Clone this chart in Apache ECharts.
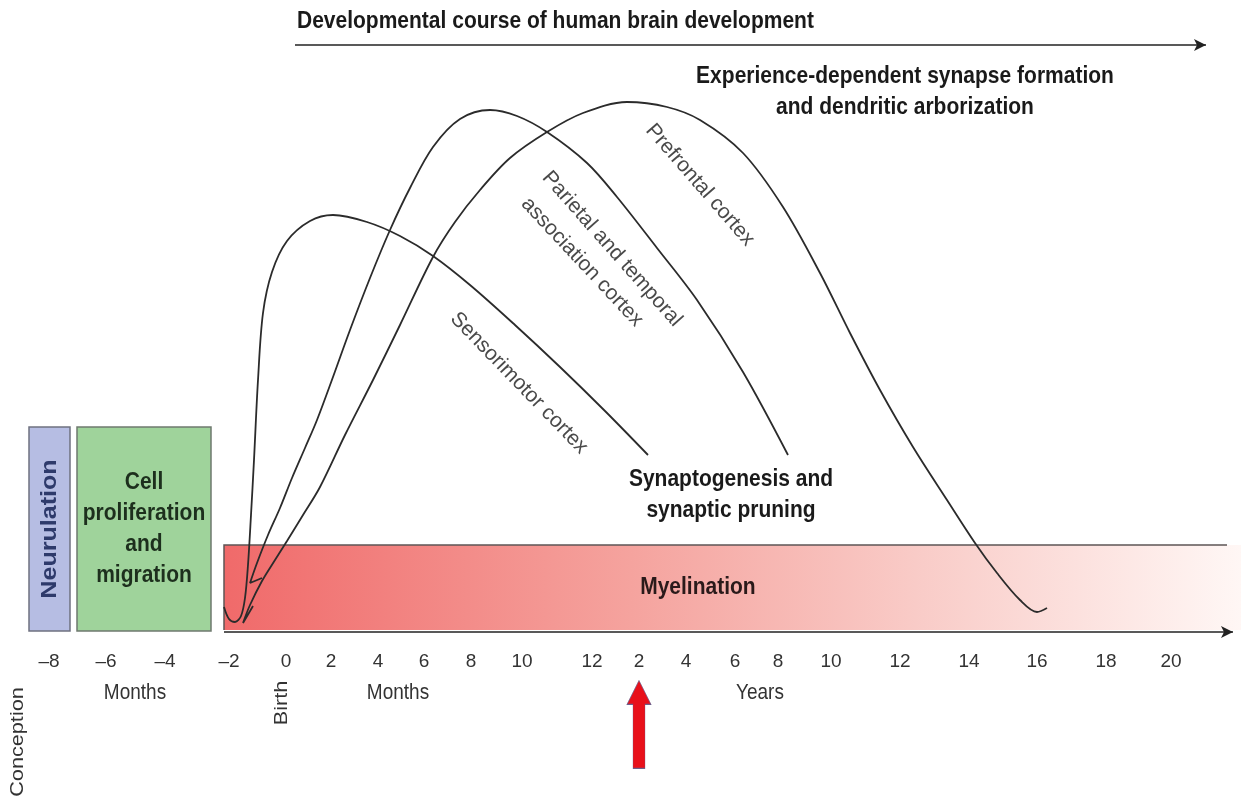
<!DOCTYPE html>
<html>
<head>
<meta charset="utf-8">
<script src="https://cdn.jsdelivr.net/npm/echarts@6/dist/echarts.min.js"></script>
<style>
  html, body { margin: 0; padding: 0; background: #fff; }
  #chart { width: 1241px; height: 804px; }
</style>
</head>
<body>
<div id="chart"></div>
<script>
// timeline units: birth = 0 (prenatal months, postnatal months, then years)
const tickPositions = [-23.7, -18.0, -12.1, -5.7, 0, 4.5, 9.2, 13.8, 18.5, 23.6, 30.6,
  35.3, 40.0, 44.9, 49.2, 54.5, 61.4, 68.3, 75.1, 82.0, 88.5]
const tickLabels = ['–8', '–6', '–4', '–2', '0', '2', '4', '6', '8', '10', '12',
  '2', '4', '6', '8', '10', '12', '14', '16', '18', '20']

// relative synapse density curves [timeline, density]
const sensorimotor = [
  [-6.2, 6.25], [-5.7, 3.25], [-5.1, 2.5], [-4.5, 4], [-4.1, 8.5], [-3.8, 16.75],
  [-3.5, 29.25], [-3.2, 43], [-2.8, 63], [-2.3, 79.75], [-1.4, 90], [0.1, 97.75],
  [2.4, 102.75], [4.7, 104.25], [8.1, 102.5], [11.4, 99], [14.7, 94], [18.4, 86.75],
  [22.9, 76.75], [27.4, 66.25], [31.9, 55.25], [36.2, 44.25],
]
const parietalTemporal = [
  [-2.4, 13.5], [-3.6, 12.25], [-2.9, 17.25], [-1.8, 24.25], [-0.6, 31], [0.6, 38.5],
  [1.9, 46], [3.1, 53], [4.7, 63.75], [6.4, 75.5], [8.4, 88.5], [10.4, 100.5], [12.4, 111],
  [14.7, 121.25], [17.4, 128.25], [20.4, 130.5], [23.1, 129], [26.1, 125], [30.1, 117.25],
  [33.1, 108.75], [37.1, 96], [41.1, 83], [45.7, 65], [50.2, 44.25],
]
const prefrontal = [
  [-3.3, 6.5], [-4.3, 2.25], [-3.6, 6.75], [-2.4, 12.75], [-1.1, 18], [0.1, 22.75],
  [1.7, 29.25], [3.4, 36.25], [5.9, 49.25], [8.7, 63], [11.4, 76.75], [14.7, 93.75],
  [16.9, 102.5], [19.4, 110.5], [22.4, 118.5], [26.1, 125], [29.7, 129.75], [34.1, 132.5],
  [38.1, 131.25], [41.4, 128], [45.7, 119.75], [49.7, 106.25], [53.4, 89.75], [56.4, 74.75],
  [59.4, 60.5], [62.7, 46.25], [66.1, 33], [68.9, 22.25], [71.1, 14.75], [73.4, 8],
  [75.1, 5], [76.1, 6],
]

// developmental phases: [start, end, bottom, top]
const phaseNames = ['Neurulation', 'Cell\nproliferation\nand\nmigration', 'Myelination']
const phaseSpans = [
  [-25.7, -21.6, 0.25, 51.25],
  [-20.9, -7.5, 0.25, 51.25],
  [-6.2, 95.5, 0.5, 21.75],
]

const FONT = '"Liberation Sans", Arial, sans-serif'
const STRETCH = 1.14

const myelinFill = new echarts.graphic.LinearGradient(0, 0, 1, 0, [
  { offset: 0, color: '#f06a6a' },
  { offset: 0.4, color: '#f5a39e' },
  { offset: 0.68, color: '#f9cbc7' },
  { offset: 1, color: '#fff7f5' },
])

const phaseLook = [
  { fill: '#b6bde3', stroke: '#6f7280', text: '#2e3a6b', size: 22, rotate: true, at: 0.5 },
  { fill: '#9fd39b', stroke: '#6f7a6f', text: '#1d2f1d', size: 21, rotate: false, at: 0.5 },
  { fill: myelinFill, stroke: null, text: '#2a1a1a', size: 21, rotate: false, at: 0.466 },
]

function renderPhase(params, api) {
  const i = params.dataIndex
  const look = phaseLook[i]
  const tl = api.coord([api.value(0), api.value(3)])
  const br = api.coord([api.value(1), api.value(2)])
  const w = br[0] - tl[0]
  const h = br[1] - tl[1]
  const children = [
    {
      type: 'rect',
      shape: { x: tl[0], y: tl[1], width: w, height: h },
      style: look.stroke
        ? { fill: look.fill, stroke: look.stroke, lineWidth: 1.5 }
        : { fill: look.fill },
    },
  ]
  if (!look.stroke) {
    children.push({
      type: 'polyline',
      shape: { points: [[tl[0], br[1]], [tl[0], tl[1]], [br[0] - 14, tl[1]]] },
      style: { stroke: '#5d5555', lineWidth: 1.5, fill: null },
    })
  }
  children.push({
    type: 'text',
    x: tl[0] + w * look.at,
    y: tl[1] + h / 2,
    rotation: look.rotate ? Math.PI / 2 : 0,
    scaleX: look.rotate ? STRETCH : 1,
    scaleY: look.rotate ? 1 : STRETCH,
    style: {
      text: phaseNames[i],
      fill: look.text,
      font: `bold ${look.size}px ${FONT}`,
      align: 'center',
      verticalAlign: 'middle',
      lineHeight: 27,
    },
  })
  return { type: 'group', children }
}

const curveStyle = { color: '#2b2b2b', width: 1.8 }

function curve(name, data) {
  return {
    name,
    type: 'line',
    data,
    smooth: 0.33,
    showSymbol: false,
    symbol: 'none',
    lineStyle: curveStyle,
    z: 5,
  }
}

function label(text, x, y, deg, extra, stretch) {
  const upright = Math.abs(deg) === 90
  return {
    type: 'text',
    x,
    y,
    rotation: (deg * Math.PI) / 180,
    scaleX: upright ? stretch || 1 : 1,
    scaleY: upright ? 1 : stretch || 1,
    z: 10,
    style: Object.assign(
      {
        text,
        fill: '#4a4a4a',
        font: `21px ${FONT}`,
        align: 'center',
        verticalAlign: 'middle',
      },
      extra || {},
    ),
  }
}

const boldText = { fill: '#1a1a1a', font: `bold 21px ${FONT}`, lineHeight: 27 }
const smallText = { fill: '#333', font: `19px ${FONT}` }

const chart = echarts.init(document.getElementById('chart'), null, { renderer: 'canvas' })

chart.setOption({
  animation: false,
  backgroundColor: '#ffffff',
  grid: { left: 0, right: 0, top: 0, bottom: 172 },
  xAxis: {
    type: 'value',
    min: -28.6,
    max: 95.5,
    axisLine: { show: false },
    axisTick: { show: false },
    splitLine: { show: false },
    axisLabel: {
      customValues: tickPositions,
      margin: 20,
      fontSize: 19,
      fontFamily: FONT,
      color: '#333',
      formatter: (v) => {
        let best = 0
        tickPositions.forEach((p, i) => {
          if (Math.abs(p - v) < Math.abs(tickPositions[best] - v)) best = i
        })
        return tickLabels[best]
      },
    },
  },
  yAxis: { type: 'value', min: 0, max: 158, show: false },
  series: [
    {
      name: 'phases',
      type: 'custom',
      renderItem: renderPhase,
      data: phaseSpans,
      clip: false,
      z: 1,
      silent: true,
    },
    Object.assign(curve('Sensorimotor cortex', sensorimotor), {
      markLine: {
        silent: true,
        symbol: ['none', 'arrow'],
        symbolSize: [9, 12],
        label: { show: false },
        lineStyle: { color: '#222', width: 1.6, type: 'solid' },
        data: [
          [{ coord: [-6.2, 0] }, { coord: [94.7, 0] }],
          [{ coord: [0.9, 146.75] }, { coord: [92.0, 146.75] }],
        ],
      },
    }),
    curve('Parietal and temporal association cortex', parietalTemporal),
    curve('Prefrontal cortex', prefrontal),
    {
      name: 'age 2 years',
      type: 'scatter',
      data: [[tickPositions[11], -23.1]],
      symbol: 'path://M12,0 L24,24 L18,24 L18,88 L6,88 L6,24 L0,24 Z',
      symbolSize: [24, 88],
      itemStyle: { color: '#e8101a', opacity: 1, borderColor: '#6c5f8c', borderWidth: 0.6 },
      clip: false,
      silent: true,
      z: 6,
    },
  ],
  graphic: [
    label('Developmental course of human brain development', 297, 21, 0,
      Object.assign({}, boldText, { align: 'left' }), STRETCH),
    label('Experience-dependent synapse formation\nand dendritic arborization', 905, 92, 0,
      boldText, STRETCH),
    label('Synaptogenesis and\nsynaptic pruning', 731, 495, 0, boldText, STRETCH),
    label('Prefrontal cortex', 700, 185, -49),
    label('Parietal and temporal', 612, 249, -48.5),
    label('association cortex', 582, 262, -47),
    label('Sensorimotor cortex', 519, 383, -46),
    label('Months', 135, 693, 0, smallText, STRETCH),
    label('Months', 398, 693, 0, smallText, STRETCH),
    label('Years', 760, 693, 0, smallText, STRETCH),
    label('Birth', 282, 703, 90, smallText, STRETCH),
    label('Conception', 18, 742, 90, smallText, STRETCH),
  ],
})
</script>
</body>
</html>
